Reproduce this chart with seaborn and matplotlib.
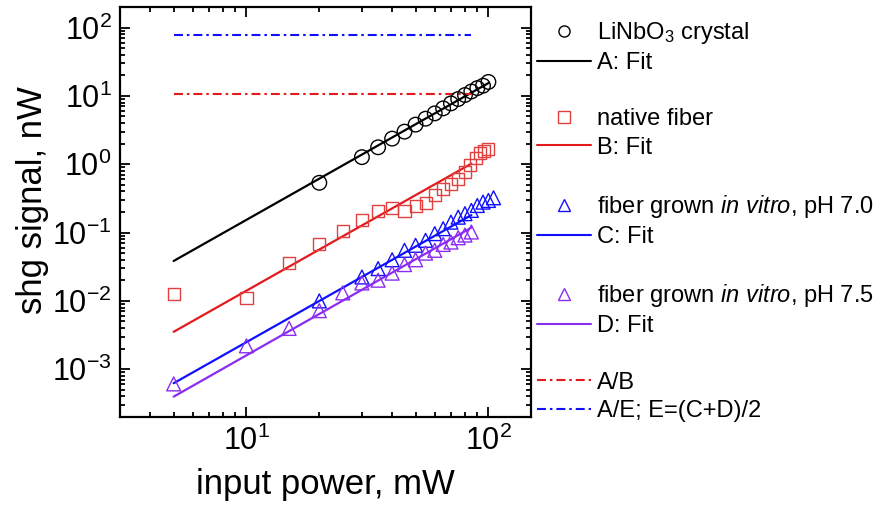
import numpy as np
import matplotlib
matplotlib.use("Agg")
import matplotlib.pyplot as plt
from matplotlib.lines import Line2D
from matplotlib.ticker import LogLocator, NullFormatter
import seaborn as sns

# --- measured SHG signal (nW) versus input power (mW) ---
crystal_power = [20, 30, 35, 40, 45, 50, 55, 60, 65, 70, 75, 80, 85, 90, 95, 100]
crystal_shg = [0.535, 1.27, 1.77, 2.37, 3.0, 3.8, 4.64, 5.55, 6.57, 7.77,
               9.0, 10.3, 11.6, 13.0, 14.1, 16.0]

native_power = [5, 10, 15, 20, 25, 30, 35, 40, 45, 50, 55, 60, 65, 70, 75,
                80, 84, 89, 92, 96, 100]
native_shg = [0.0128, 0.0109, 0.0364, 0.0673, 0.104, 0.151, 0.206, 0.226,
              0.206, 0.241, 0.273, 0.349, 0.438, 0.518, 0.612, 0.78, 0.98,
              1.22, 1.47, 1.57, 1.68]

ph70_power = [20, 30, 35, 40, 45, 50, 55, 60, 65, 70, 75, 80, 85, 90, 95, 100, 105]
ph70_shg = [0.0100, 0.0224, 0.0297, 0.0400, 0.0550, 0.0651, 0.077, 0.0965,
            0.114, 0.142, 0.168, 0.189, 0.211, 0.249, 0.279, 0.295, 0.323]

ph75_power = [5, 10, 15, 20, 25, 30, 35, 40, 45, 50, 55, 60, 65, 70, 75, 80, 85]
ph75_shg = [6.1e-4, 2.2e-3, 3.96e-3, 7.2e-3, 0.0131, 0.0183, 0.0201, 0.0255,
            0.034, 0.040, 0.050, 0.055, 0.067, 0.0727, 0.084, 0.092, 0.102]

# quadratic fits (straight lines on log-log axes), given by their end points
fitA_power = [5, 100]
fitA_shg = [0.0384, 15.4]
fitB_power = [5, 85]
fitB_shg = [0.00353, 1.02]
fitC_power = [5, 85]
fitC_shg = [6.24e-4, 0.180]
fitD_power = [5, 85]
fitD_shg = [3.97e-4, 0.118]

# fit-coefficient ratios
ratio_power = [5, 85]
ratio_AB = [10.7, 10.7]
ratio_AE = [77.3, 77.3]

legend_labels = ["LiNbO$_3$ crystal", "A: Fit",
                 "native fiber", "B: Fit",
                 r"fiber grown $\it{in\ vitro}$, pH 7.0", "C: Fit",
                 r"fiber grown $\it{in\ vitro}$, pH 7.5", "D: Fit",
                 "A/B", "A/E; E=(C+D)/2"]

BLACK = "#000000"
RED = "#e31a1c"
RED_MARK = "#e04040"
BLUE = "#1010ff"
PURPLE = "#8a2cf2"
DASHDOT = (0, (4.3, 1.9, 1.2, 1.9))

sns.set_theme(style="ticks")
plt.rcParams["font.family"] = ["Liberation Sans", "DejaVu Sans"]
plt.rcParams["mathtext.fontset"] = "custom"
plt.rcParams["mathtext.rm"] = "Liberation Sans"
plt.rcParams["mathtext.it"] = "Liberation Sans:italic"
plt.rcParams["mathtext.bf"] = "Liberation Sans:bold"
plt.rcParams["text.color"] = "black"
plt.rcParams["axes.labelcolor"] = "black"

fig = plt.figure(figsize=(8.78, 5.05), dpi=100)
ax = fig.add_axes([120 / 878, 88 / 505, 411 / 878, 410 / 505])
ax.set_xscale("log")
ax.set_yscale("log")

# fit lines
sns.lineplot(x=fitA_power, y=fitA_shg, color=BLACK, lw=1.6, ax=ax)
sns.lineplot(x=fitB_power, y=fitB_shg, color=RED, lw=1.6, ax=ax)
sns.lineplot(x=fitC_power, y=fitC_shg, color=BLUE, lw=1.6, ax=ax)
sns.lineplot(x=fitD_power, y=fitD_shg, color=PURPLE, lw=1.6, ax=ax)
sns.lineplot(x=ratio_power, y=ratio_AB, color=RED, lw=1.5, linestyle=DASHDOT, ax=ax)
sns.lineplot(x=ratio_power, y=ratio_AE, color=BLUE, lw=1.5, linestyle=DASHDOT, ax=ax)

# measured points (open markers)
sns.scatterplot(x=crystal_power, y=crystal_shg, marker="o", s=110,
                facecolor="none", edgecolor=BLACK, linewidth=1.0, ax=ax, zorder=3)
sns.scatterplot(x=native_power, y=native_shg, marker="s", s=75,
                facecolor="none", edgecolor=RED_MARK, linewidth=1.0, ax=ax, zorder=3)
sns.scatterplot(x=ph70_power, y=ph70_shg, marker="^", s=100,
                facecolor="none", edgecolor=BLUE, linewidth=1.0, ax=ax, zorder=3)
sns.scatterplot(x=ph75_power, y=ph75_shg, marker="^", s=100,
                facecolor="none", edgecolor=PURPLE, linewidth=1.0, ax=ax, zorder=3)

ax.set_xlim(3, 150)
ax.set_ylim(2e-4, 200)

for axis in (ax.xaxis, ax.yaxis):
    axis.set_major_locator(LogLocator(base=10, numticks=20))
    axis.set_minor_locator(LogLocator(base=10, subs=np.arange(2, 10), numticks=100))
    axis.set_minor_formatter(NullFormatter())
ax.xaxis.get_offset_text().set_visible(False)
ax.yaxis.get_offset_text().set_visible(False)

ax.tick_params(which="both", direction="in", top=True, right=True,
               labelsize=22, width=1.3, colors="black")
ax.tick_params(which="major", length=7, pad=6)
ax.tick_params(which="minor", length=3.5)
for sp in ax.spines.values():
    sp.set_linewidth(1.6)
    sp.set_color("black")
    sp.set_visible(True)
ax.grid(False)
ax.set_facecolor("white")

ax.set_xlabel("input power, mW", fontsize=25, labelpad=8)
ax.set_ylabel("shg signal, nW", fontsize=25)
ax.yaxis.set_label_coords(-0.172, 0.53)

# legend beside the axes
def mk(marker, color, ms):
    return Line2D([], [], linestyle="none", marker=marker, markersize=ms,
                  markerfacecolor="none", markeredgecolor=color, markeredgewidth=1.0)

def ln(color, ls="-"):
    return Line2D([], [], color=color, lw=1.5, linestyle=ls)

blank = Line2D([], [], linestyle="none")
handles = [mk("o", BLACK, 8), ln(BLACK), blank,
           mk("s", RED_MARK, 8), ln(RED), blank,
           mk("^", BLUE, 9), ln(BLUE), blank,
           mk("^", PURPLE, 9), ln(PURPLE), blank,
           ln(RED, DASHDOT), ln(BLUE, DASHDOT)]
labels = [legend_labels[0], legend_labels[1], "",
          legend_labels[2], legend_labels[3], "",
          legend_labels[4], legend_labels[5], "",
          legend_labels[6], legend_labels[7], "",
          legend_labels[8], legend_labels[9]]
leg = ax.legend(handles, labels, loc="upper left",
                bbox_to_anchor=(537 / 878, 1 - 20 / 505),
                bbox_transform=fig.transFigure, frameon=False,
                fontsize=17, handlelength=2.3, handletextpad=0.25,
                labelspacing=0.26, borderpad=0, borderaxespad=0)

fig.savefig("out.png", dpi=100, facecolor="white")
